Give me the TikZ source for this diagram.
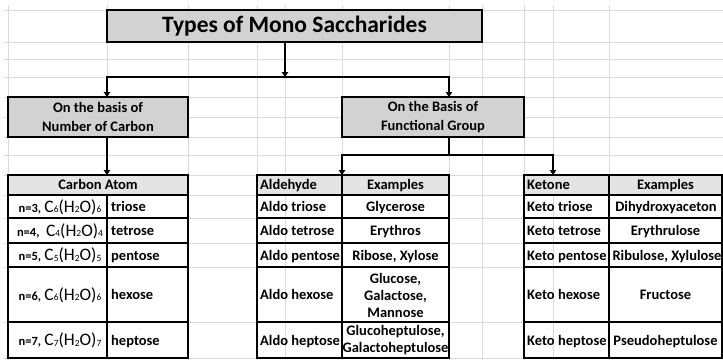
\documentclass[tikz,border=0pt]{standalone}
\usepackage{fontspec}
\setmainfont{Carlito}
\usetikzlibrary{arrows.meta}
\definecolor{boxgray}{HTML}{D2D2D2}
\definecolor{headgray}{HTML}{E4E4E4}
\definecolor{gridgray}{HTML}{DADADA}
\newcommand\lowsub[1]{\raisebox{-0.6pt}{\fontsize{9.5}{9.5}\selectfont #1}}
\newcommand\chemf[2]{{\mdseries\fontsize{17.5}{19}\selectfont C\lowsub{#1}(H\lowsub{2}O)\lowsub{#2}}}
\newcommand\nlab[1]{{\fontsize{12.5}{14}\selectfont n=#1,}}
\tikzset{
  gridline/.style={gridgray, line width=0.9pt},
  box/.style={draw, line width=1.8pt, fill=boxgray, inner sep=0pt, align=center,
    font=\bfseries\fontsize{14.5}{19}\selectfont},
  conn/.style={line width=2.2pt},
  arr/.style={conn, -{Triangle[width=6.5pt,length=5pt]}},
  outer/.style={line width=2pt},
  inner/.style={line width=1.3pt},
  mcell/.style={inner sep=0pt, font=\bfseries\fontsize{14.5}{17}\selectfont, align=center},
  cell/.style={mcell, text height=11.5pt, text depth=2.5pt},
  lcell/.style={cell, anchor=west},
}
\begin{document}
\begin{tikzpicture}[x=1pt,y=-1pt]
\useasboundingbox (0,0) rectangle (723,360);
% spreadsheet grid
\foreach \yy in {10,42,59,77,97,117,137,155,175,195,218,243,267,322,358}
  \draw[gridline] (4,\yy) -- (723,\yy);
\foreach \xx in {8,107,188,257,285,342,449,482,524,553,609}
  \draw[gridline] (\xx,5) -- (\xx,360);
% boxes
\node[box, minimum width=375pt, minimum height=32pt, font=\bfseries\fontsize{23.5}{26}\selectfont] (title) at (294.5,26) {Types of Mono Saccharides};
\node[box, minimum width=180pt, minimum height=40pt] (box1) at (98,117) {On the basis of\\Number of Carbon};
\node[box, minimum width=182pt, minimum height=40pt] (box2) at (433,117) {On the Basis of\\Functional Group};
% connector points
\coordinate (j1) at (285,77);
\coordinate (a1) at (107,97);
\coordinate (a2) at (449,97);
\coordinate (j2) at (449,155);
\coordinate (t1) at (107,175);
\coordinate (t2) at (342,175);
\coordinate (t3) at (553,175);
\draw[arr] (j1 |- title.south) -- (j1);
\draw[arr] (j1) -| (a1);
\draw[arr] (j1) -| (a2);
\draw[arr] (a1 |- box1.south) -- (t1);
\draw[conn] (a2 |- box2.south) -- (j2);
\draw[arr] (j2) -| (t2);
\draw[arr] (j2) -| (t3);
% header fills
\fill[headgray] (8,175) rectangle (188,195);
\fill[headgray] (257,175) rectangle (449,195);
\fill[headgray] (524,175) rectangle (722,195);
% table lines
\foreach \yy in {195,218,243,267,322} {
  \draw[inner] (8,\yy) -- (188,\yy);
  \draw[inner] (257,\yy) -- (449,\yy);
  \draw[inner] (524,\yy) -- (722,\yy);
}
\draw[inner] (107,195) -- (107,358);
\draw[inner] (342,175) -- (342,358);
\draw[inner] (609,175) -- (609,358);
\draw[outer] (8,175) rectangle (188,358);
\draw[outer] (257,175) rectangle (449,358);
\draw[outer] (524,175) rectangle (722,358);
% table 1
\node[cell] (c1h) at (98,185) {Carbon Atom};
\node[mcell] (c1a) at (60,207) {\nlab{3} \chemf{6}{6}};
\node[mcell] (c1b) at (60,231) {\nlab{4}\ \ \chemf{4}{4}};
\node[mcell] (c1c) at (60,255.5) {\nlab{5} \chemf{5}{5}};
\node[mcell] (c1d) at (60,295) {\nlab{6} \chemf{6}{6}};
\node[mcell] (c1e) at (60,340.5) {\nlab{7} \chemf{7}{7}};
\node[lcell] (c2a) at (111,207) {triose};
\node[lcell] (c2b) at (111,231) {tetrose};
\node[lcell] (c2c) at (111,255.5) {pentose};
\node[lcell] (c2d) at (111,295) {hexose};
\node[lcell] (c2e) at (111,340.5) {heptose};
% table 2
\node[lcell] (d1h) at (260,185) {Aldehyde};
\node[lcell] (d1a) at (260,207) {Aldo triose};
\node[lcell] (d1b) at (260,231) {Aldo tetrose};
\node[lcell] (d1c) at (260,255.5) {Aldo pentose};
\node[lcell] (d1d) at (260,295) {Aldo hexose};
\node[lcell] (d1e) at (260,340.5) {Aldo heptose};
\node[cell] (d2h) at (395.5,185) {Examples};
\node[cell] (d2a) at (395.5,207) {Glycerose};
\node[cell] (d2b) at (395.5,231) {Erythros};
\node[cell] (d2c) at (395.5,255.5) {Ribose, Xylose};
\node[mcell] (d2d) at (395.5,295) {Glucose,\\Galactose,\\Mannose};
\node[mcell] (d2e) at (395.5,340.5) {Glucoheptulose,\\Galactoheptulose};
% table 3
\node[lcell] (e1h) at (527,185) {Ketone};
\node[lcell] (e1a) at (527,207) {Keto triose};
\node[lcell] (e1b) at (527,231) {Keto tetrose};
\node[lcell] (e1c) at (527,255.5) {Keto pentose};
\node[lcell] (e1d) at (527,295) {Keto hexose};
\node[lcell] (e1e) at (527,340.5) {Keto heptose};
\node[cell] (e2h) at (665.5,185) {Examples};
\node[cell] (e2a) at (666,207) {Dihydroxyaceton};
\node[cell] (e2b) at (665.5,231) {Erythrulose};
\node[cell] (e2c) at (667,255.5) {Ribulose, Xylulose};
\node[cell] (e2d) at (665.5,295) {Fructose};
\node[cell] (e2e) at (665.5,340.5) {Pseudoheptulose};
\end{tikzpicture}
\end{document}
